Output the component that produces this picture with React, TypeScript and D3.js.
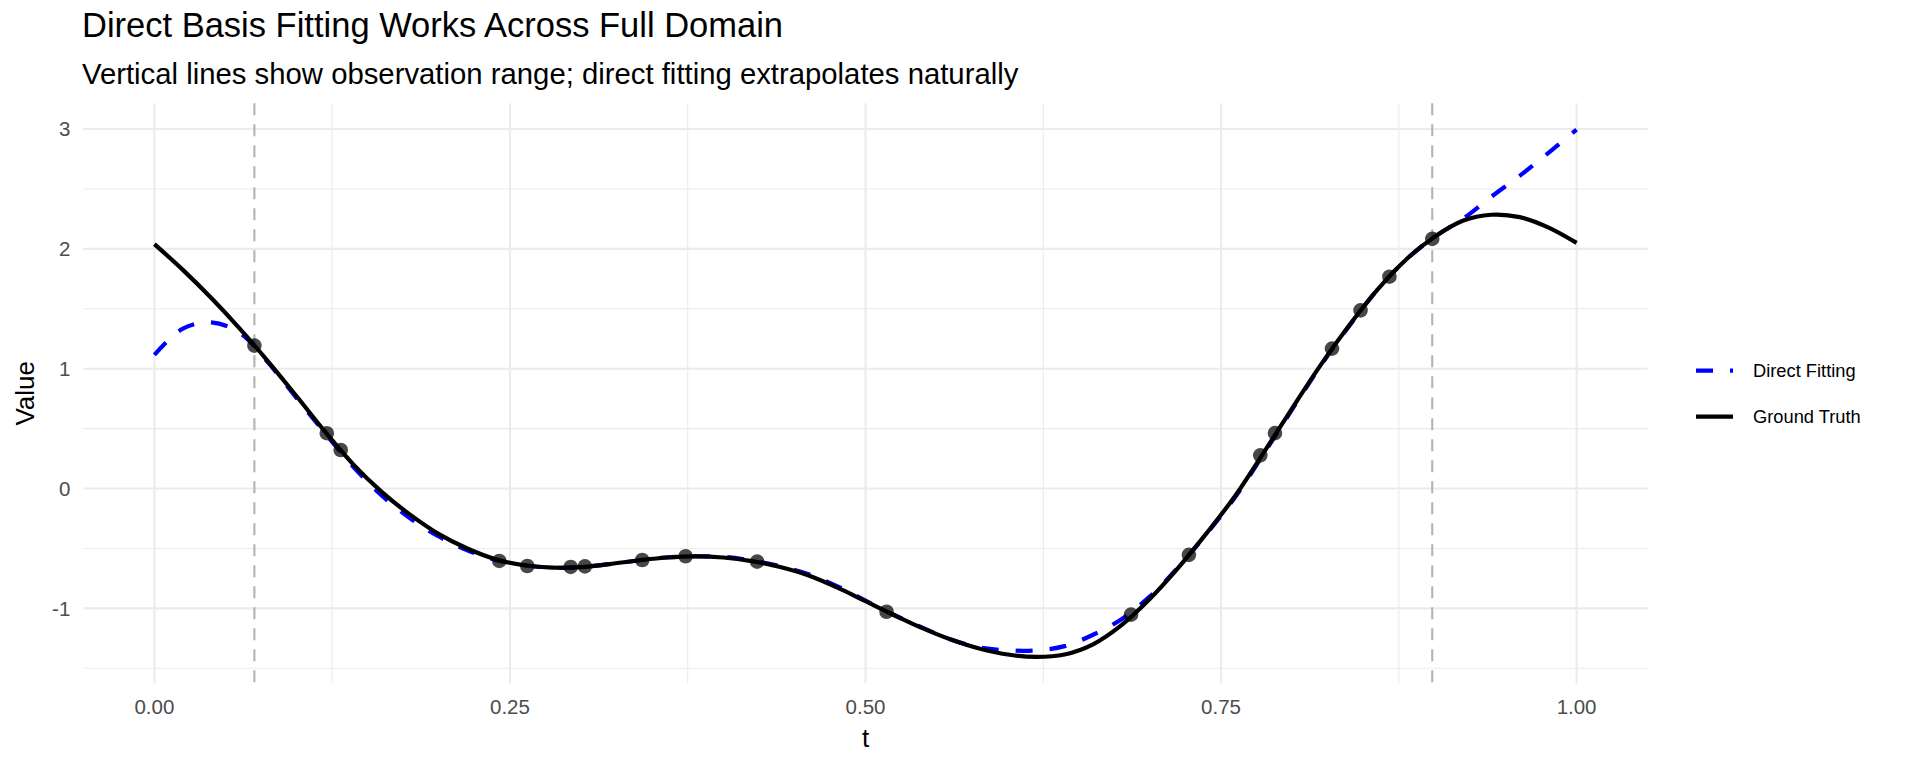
import React from "react";
import * as d3 from "d3";

// ---- data ----
const tGrid = [0, 0.02, 0.04, 0.06, 0.08, 0.1, 0.12, 0.14, 0.16, 0.18, 0.2, 0.22, 0.24, 0.26, 0.28, 0.3, 0.32, 0.34, 0.36, 0.38, 0.4, 0.42, 0.44, 0.46, 0.48, 0.5, 0.52, 0.54, 0.56, 0.58, 0.6, 0.62, 0.64, 0.66, 0.68, 0.7, 0.72, 0.74, 0.76, 0.78, 0.8, 0.82, 0.84, 0.86, 0.88, 0.9, 0.92, 0.94, 0.96, 0.98, 1.0];

const groundTruth = [2.04, 1.825, 1.59, 1.335, 1.06, 0.77, 0.475, 0.2, -0.03, -0.22, -0.38, -0.5, -0.59, -0.64, -0.66, -0.655, -0.63, -0.6, -0.575, -0.565, -0.575, -0.605, -0.655, -0.725, -0.825, -0.94, -1.055, -1.165, -1.26, -1.335, -1.385, -1.405, -1.385, -1.3, -1.14, -0.92, -0.66, -0.37, -0.06, 0.3, 0.67, 1.03, 1.36, 1.66, 1.91, 2.1, 2.235, 2.285, 2.265, 2.18, 2.05];

const directFit = [1.115, 1.335, 1.387, 1.3, 1.05, 0.755, 0.462, 0.18, -0.06, -0.25, -0.4, -0.515, -0.595, -0.64, -0.66, -0.655, -0.63, -0.6, -0.575, -0.565, -0.57, -0.6, -0.648, -0.715, -0.815, -0.935, -1.055, -1.16, -1.26, -1.325, -1.35, -1.35, -1.315, -1.22, -1.09, -0.9, -0.655, -0.375, -0.07, 0.29, 0.66, 1.025, 1.355, 1.66, 1.91, 2.1, 2.25, 2.435, 2.61, 2.8, 2.995];

const obsT = [0.0703, 0.1212, 0.131, 0.2425, 0.2622, 0.2927, 0.3027, 0.343, 0.3735, 0.4238, 0.5148, 0.6867, 0.7274, 0.7776, 0.7879, 0.828, 0.8481, 0.8684, 0.8985];
const obsV = [1.193, 0.462, 0.322, -0.604, -0.646, -0.654, -0.649, -0.596, -0.565, -0.61, -1.028, -1.052, -0.553, 0.277, 0.463, 1.168, 1.487, 1.768, 2.084];

const xMajor = [0, 0.25, 0.5, 0.75, 1.0];
const xMinor = [0.125, 0.375, 0.625, 0.875];
const yMajor = [-1, 0, 1, 2, 3];
const yMinor = [-1.5, -0.5, 0.5, 1.5, 2.5];

const legendLabels = ["Direct Fitting", "Ground Truth"];

const TITLE = "Direct Basis Fitting Works Across Full Domain";
const SUBTITLE = "Vertical lines show observation range; direct fitting extrapolates naturally";

const FONT = "'Liberation Sans', Arial, Helvetica, sans-serif";

export default function App() {
  const W = 1920, H = 768;
  const panel = { left: 83.3, right: 1647.7, top: 103.3, bottom: 683.3 };

  const allY = [...groundTruth, ...directFit, ...obsV];
  const [yLo, yHi] = d3.extent(allY) as [number, number];
  const yPad = (yHi - yLo) * 0.05;
  const xPad = 0.05;

  const x = d3.scaleLinear().domain([0 - xPad, 1 + xPad]).range([panel.left, panel.right]);
  const y = d3.scaleLinear().domain([yLo - yPad, yHi + yPad]).range([panel.bottom, panel.top]);

  const line = d3
    .line<number>()
    .x((_, i) => x(tGrid[i]))
    .y((d) => y(d))
    .curve(d3.curveCatmullRom.alpha(0.5));

  const obsMin = d3.min(obsT) as number;
  const obsMax = d3.max(obsT) as number;

  const grid = "#EBEBEB";
  const fmt = d3.format(".2f");

  return (
    <svg width={W} height={H} style={{ display: "block", position: "absolute", left: 0, top: 0 }} fontFamily={FONT}>
      <rect width={W} height={H} fill="white" />
      {/* grid */}
      {yMinor.map((v) => (
        <line key={"ym" + v} x1={panel.left} x2={panel.right} y1={y(v)} y2={y(v)} stroke={grid} strokeWidth={1.1} />
      ))}
      {xMinor.map((v) => (
        <line key={"xm" + v} x1={x(v)} x2={x(v)} y1={panel.top} y2={panel.bottom} stroke={grid} strokeWidth={1.1} />
      ))}
      {yMajor.map((v) => (
        <line key={"yM" + v} x1={panel.left} x2={panel.right} y1={y(v)} y2={y(v)} stroke={grid} strokeWidth={2.1} />
      ))}
      {xMajor.map((v) => (
        <line key={"xM" + v} x1={x(v)} x2={x(v)} y1={panel.top} y2={panel.bottom} stroke={grid} strokeWidth={2.1} />
      ))}

      {/* observation range */}
      {[obsMin, obsMax].map((v) => (
        <line key={"v" + v} x1={x(v)} x2={x(v)} y1={panel.top} y2={panel.bottom} stroke="#B3B3B3" strokeWidth={2.1} strokeDasharray="12 9" />
      ))}

      {/* curves */}
      <path d={line(directFit) || ""} fill="none" stroke="#0000FF" strokeWidth={4.2} strokeDasharray="17 17" />
      <path d={line(groundTruth) || ""} fill="none" stroke="#000000" strokeWidth={4.2} />

      {/* points */}
      {obsT.map((t, i) => (
        <circle key={"p" + i} cx={x(t)} cy={y(obsV[i])} r={7.3} fill="#000" fillOpacity={0.72} />
      ))}

      {/* y ticks */}
      {yMajor.map((v) => (
        <text key={"yt" + v} x={panel.left - 13} y={y(v)} dy="0.35em" textAnchor="end" fontSize={20.5} fill="#4D4D4D">
          {v}
        </text>
      ))}
      {/* x ticks */}
      {xMajor.map((v) => (
        <text key={"xt" + v} x={x(v)} y={panel.bottom + 23.4} dy="0.35em" textAnchor="middle" fontSize={20.5} fill="#4D4D4D">
          {fmt(v)}
        </text>
      ))}

      {/* axis titles */}
      <text x={(panel.left + panel.right) / 2} y={738} dy="0.35em" textAnchor="middle" fontSize={26} fill="#000">
        t
      </text>
      <text transform={`translate(24.5,${(panel.top + panel.bottom) / 2}) rotate(-90)`} dy="0.35em" textAnchor="middle" fontSize={26} fill="#000">
        Value
      </text>

      {/* title */}
      <text x={82} y={37} fontSize={34.5} fill="#000">{TITLE}</text>
      <text x={82} y={83.5} fontSize={29.3} fill="#000">{SUBTITLE}</text>

      {/* legend */}
      {legendLabels.map((lab, i) => {
        const ly = 370.7 + i * 46;
        return (
          <g key={lab}>
            {i === 0 ? (
              <line x1={1696} x2={1733} y1={ly} y2={ly} stroke="#0000FF" strokeWidth={4.2} strokeDasharray="17 17" />
            ) : (
              <line x1={1696} x2={1733} y1={ly} y2={ly} stroke="#000" strokeWidth={4.2} />
            )}
            <text x={1753} y={ly} dy="0.35em" fontSize={18.3} fill="#000">
              {lab}
            </text>
          </g>
        );
      })}
    </svg>
  );
}
